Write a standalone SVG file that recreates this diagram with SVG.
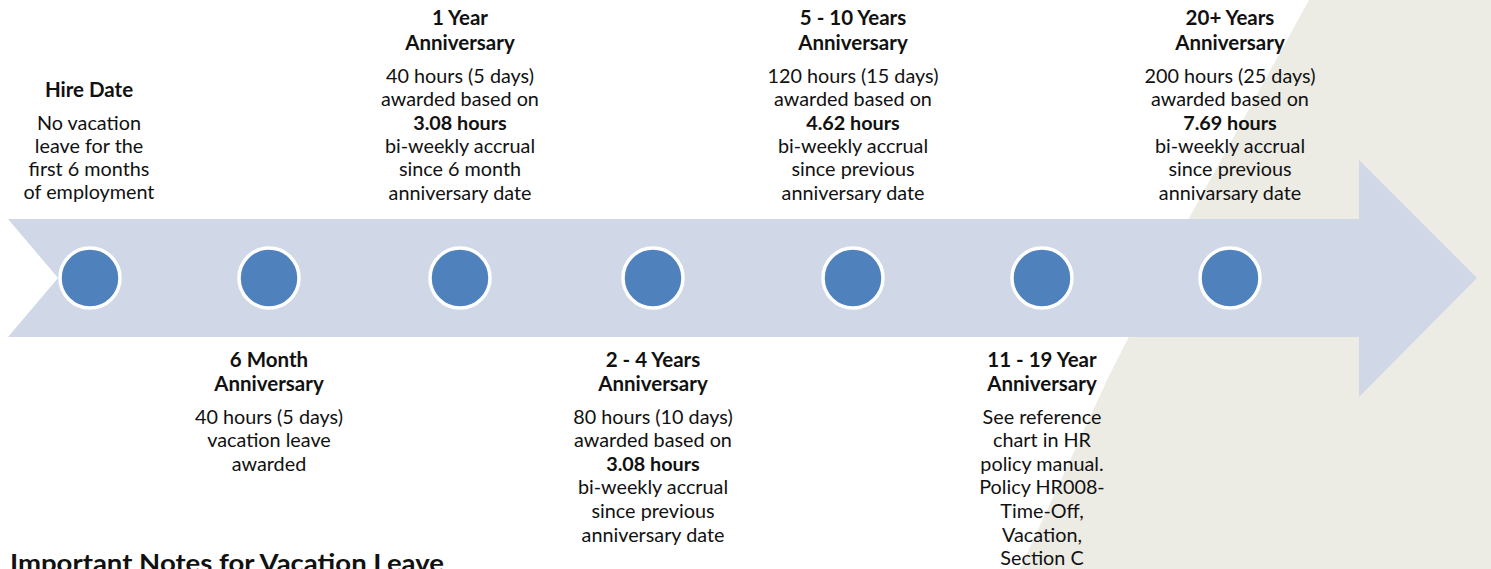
<svg xmlns="http://www.w3.org/2000/svg" width="1491" height="569" viewBox="0 0 1491 569">
<style>
text{font-family:Lato,"Liberation Sans",sans-serif;font-size:19.8px;fill:#111;text-anchor:middle}
.h{font-weight:700;font-size:20.5px}
.b{font-weight:700}
.dot{fill:#4F81BD;stroke:#fff;stroke-width:3.5}
.title{font-size:24px;font-weight:700;text-anchor:start}
</style>
<rect x="0" y="0" width="1491" height="569" fill="#fff"/>
<polygon points="1309,0 1491,0 1491,569 1020,569 1107,380 1188,220" fill="#ECEBE4"/>
<g id="connectors">
<polygon id="timeline-arrow" points="8,219 1359,219 1359,160 1477,278 1359,397 1359,337 8,337 58,278" fill="#D0D8E8"/>
</g>
<g id="hire-date">
<circle class="dot" cx="90" cy="278" r="30"/>
<text class="h" x="89" y="97">Hire Date</text>
<text x="89" y="130">No vacation</text>
<text x="89" y="153">leave for the</text>
<text x="89" y="176">first 6 months</text>
<text x="89" y="199">of employment</text>
</g>
<g id="six-month">
<circle class="dot" cx="269" cy="278" r="30"/>
<text class="h" x="269" y="367">6 Month</text>
<text class="h" x="269" y="391">Anniversary</text>
<text x="269" y="424">40 hours (5 days)</text>
<text x="269" y="447">vacation leave</text>
<text x="269" y="471">awarded</text>
</g>
<g id="one-year">
<circle class="dot" cx="460" cy="278" r="30"/>
<text class="h" x="460" y="25">1 Year</text>
<text class="h" x="460" y="50">Anniversary</text>
<text x="460" y="83">40 hours (5 days)</text>
<text x="460" y="106">awarded based on</text>
<text class="b" x="460" y="130">3.08 hours</text>
<text x="460" y="153">bi-weekly accrual</text>
<text x="460" y="176">since 6 month</text>
<text x="460" y="200">anniversary date</text>
</g>
<g id="two-four-years">
<circle class="dot" cx="653" cy="278" r="30"/>
<text class="h" x="653" y="367">2 - 4 Years</text>
<text class="h" x="653" y="391">Anniversary</text>
<text x="653" y="424">80 hours (10 days)</text>
<text x="653" y="447">awarded based on</text>
<text class="b" x="653" y="471">3.08 hours</text>
<text x="653" y="494">bi-weekly accrual</text>
<text x="653" y="518">since previous</text>
<text x="653" y="542">anniversary date</text>
</g>
<g id="five-ten-years">
<circle class="dot" cx="853" cy="278" r="30"/>
<text class="h" x="853" y="25">5 - 10 Years</text>
<text class="h" x="853" y="50">Anniversary</text>
<text x="853" y="83">120 hours (15 days)</text>
<text x="853" y="106">awarded based on</text>
<text class="b" x="853" y="130">4.62 hours</text>
<text x="853" y="153">bi-weekly accrual</text>
<text x="853" y="176">since previous</text>
<text x="853" y="200">anniversary date</text>
</g>
<g id="eleven-nineteen-years">
<circle class="dot" cx="1042" cy="278" r="30"/>
<text class="h" x="1042" y="367">11 - 19 Year</text>
<text class="h" x="1042" y="391">Anniversary</text>
<text x="1042" y="424">See reference</text>
<text x="1042" y="447">chart in HR</text>
<text x="1042" y="471">policy manual.</text>
<text x="1042" y="494">Policy HR008-</text>
<text x="1042" y="518">Time-Off,</text>
<text x="1042" y="542">Vacation,</text>
<text x="1042" y="565">Section C</text>
</g>
<g id="twenty-plus-years">
<circle class="dot" cx="1230" cy="278" r="30"/>
<text class="h" x="1230" y="25">20+ Years</text>
<text class="h" x="1230" y="50">Anniversary</text>
<text x="1230" y="83">200 hours (25 days)</text>
<text x="1230" y="106">awarded based on</text>
<text class="b" x="1230" y="130">7.69 hours</text>
<text x="1230" y="153">bi-weekly accrual</text>
<text x="1230" y="176">since previous</text>
<text x="1230" y="200">annivarsary date</text>
</g>
<text class="title" x="10" y="572" textLength="434" lengthAdjust="spacingAndGlyphs">Important Notes for Vacation Leave</text>
</svg>
